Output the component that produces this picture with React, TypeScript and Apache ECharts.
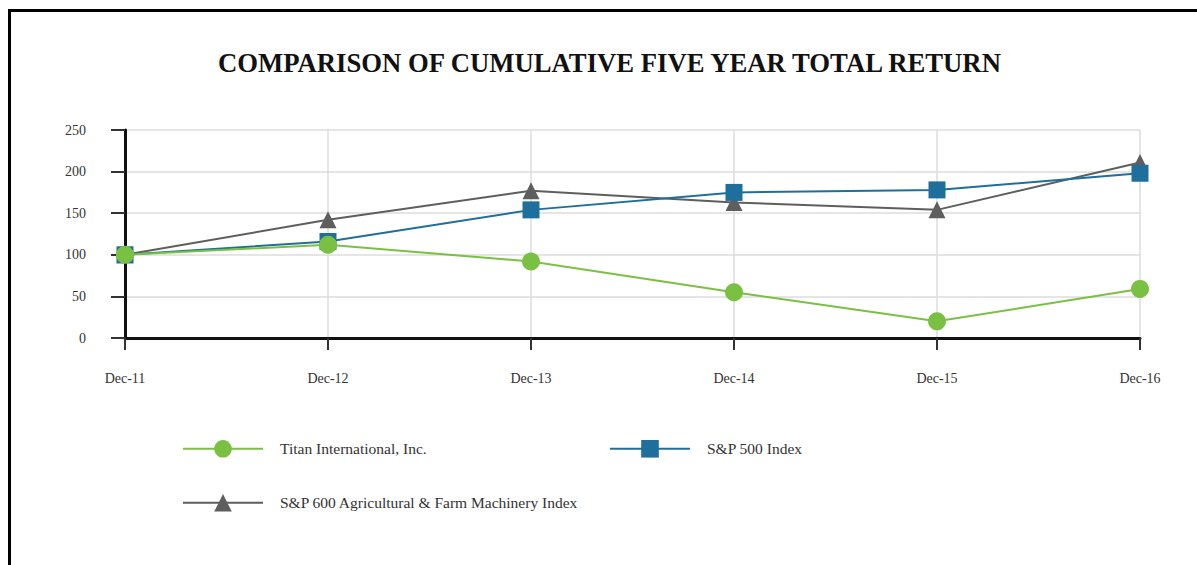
import React, { useEffect, useRef } from "react";
import * as echarts from "echarts";

const categories = ["Dec-11", "Dec-12", "Dec-13", "Dec-14", "Dec-15", "Dec-16"];
const titanValues = [100, 112, 92, 55, 20, 59];
const sp500Values = [100, 116, 154, 175, 178, 198];
const agriValues = [100, 142, 177, 163, 154, 211];
const yTicks = [0, 50, 100, 150, 200, 250];

const TITAN = "Titan International, Inc.";
const SP500 = "S&P 500 Index";
const AGRI = "S&P 600 Agricultural & Farm Machinery Index";

const GREEN = "#7ac143";
const BLUE = "#1f6f9c";
const GRAY = "#5e5e5e";
const FONT = "Liberation Serif";

export default function App() {
  const ref = useRef<HTMLDivElement>(null);
  useEffect(() => {
    if (!ref.current) return;
    const chart = echarts.init(ref.current, undefined, { renderer: "svg" });
    const legendBase = {
      orient: "horizontal",
      padding: 0,
      itemWidth: 80,
      itemHeight: 22,
      selectedMode: false,
      textStyle: { fontFamily: FONT, fontSize: 15.5, color: "#333", padding: [0, 0, 0, 12] },
    };
    chart.setOption({
      animation: false,
      backgroundColor: "#fff",
      title: {
        text: "COMPARISON OF CUMULATIVE FIVE YEAR TOTAL RETURN",
        left: 213,
        top: 44,
        textStyle: { fontFamily: FONT, fontSize: 26.7, fontWeight: "bold", color: "#111" },
      },
      graphic: [
        {
          type: "rect",
          shape: { x: 9.5, y: 10.5, width: 1400, height: 800 },
          style: { fill: "none", stroke: "#000", lineWidth: 3 },
          silent: true,
        },
      ],
      legend: [
        { ...legendBase, left: 182, top: 440, data: [TITAN] },
        { ...legendBase, left: 609, top: 440, data: [SP500] },
        { ...legendBase, left: 182, top: 494, data: [AGRI] },
      ],
      grid: { left: 125, right: 57, top: 130, bottom: 227, containLabel: false },
      xAxis: {
        type: "category",
        data: categories,
        boundaryGap: false,
        axisLine: { show: true, lineStyle: { color: "#111", width: 3 } },
        axisTick: { show: true, length: 12, lineStyle: { color: "#333", width: 2 } },
        axisLabel: { margin: 33, fontFamily: FONT, fontSize: 14, color: "#333" },
        splitLine: { show: true, lineStyle: { color: "#dcdcdc", width: 1.5 } },
      },
      yAxis: {
        type: "value",
        min: 0,
        max: 250,
        interval: 50,
        axisLine: { show: true, lineStyle: { color: "#111", width: 3 } },
        axisTick: { show: true, length: 14, lineStyle: { color: "#333", width: 2 } },
        axisLabel: {
          margin: 39,
          fontFamily: FONT,
          fontSize: 14,
          color: "#333",
          formatter: (v: number) => (yTicks.includes(v) ? String(v) : ""),
        },
        splitLine: { show: true, lineStyle: { color: "#dcdcdc", width: 1.5 } },
      },
      series: [
        {
          name: AGRI,
          type: "line",
          data: agriValues,
          symbol: "triangle",
          symbolSize: 17,
          lineStyle: { color: GRAY, width: 2 },
          itemStyle: { color: GRAY },
        },
        {
          name: SP500,
          type: "line",
          data: sp500Values,
          symbol: "rect",
          symbolSize: 17,
          lineStyle: { color: BLUE, width: 2 },
          itemStyle: { color: BLUE },
        },
        {
          name: TITAN,
          type: "line",
          data: titanValues,
          symbol: "circle",
          symbolSize: 18,
          lineStyle: { color: GREEN, width: 2 },
          itemStyle: { color: GREEN },
        },
      ],
    });
    return () => chart.dispose();
  }, []);
  return (
    <div
      ref={ref}
      style={{ position: "fixed", left: 0, top: 0, width: 1197, height: 565 }}
    />
  );
}
